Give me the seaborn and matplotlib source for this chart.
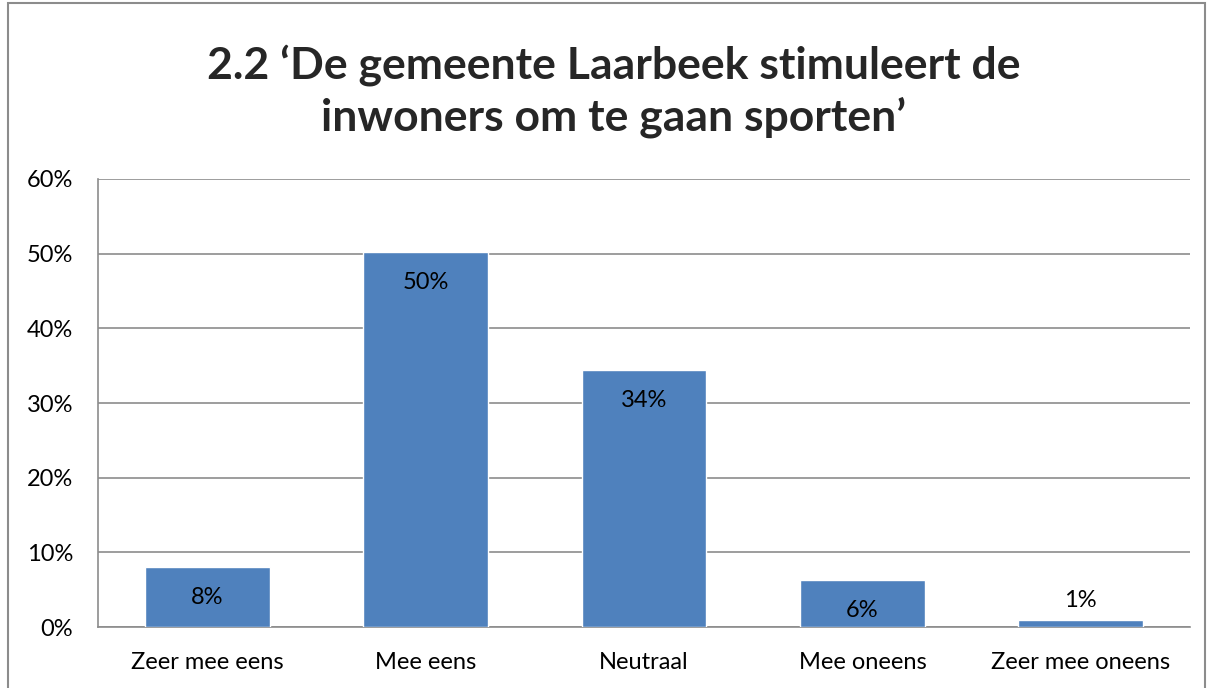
import matplotlib
matplotlib.use("Agg")
import matplotlib.pyplot as plt
import seaborn as sns
import pandas as pd
from matplotlib.patches import Rectangle

categories = ["Zeer mee eens", "Mee eens", "Neutraal", "Mee oneens", "Zeer mee oneens"]
values = [8.0, 50.2, 34.4, 6.3, 0.9]
labels = ["8%", "50%", "34%", "6%", "1%"]
yticks = [0, 10, 20, 30, 40, 50, 60]
ytick_labels = ["0%", "10%", "20%", "30%", "40%", "50%", "60%"]
title = "2.2 \u2018De gemeente Laarbeek stimuleert de\ninwoners om te gaan sporten\u2019"

sns.set_theme(style="white")
plt.rcParams['font.family'] = ['Lato', 'DejaVu Sans']

df = pd.DataFrame({"cat": categories, "val": values})

fig = plt.figure(figsize=(12.15, 6.88), dpi=100)
ax = fig.add_axes([98/1215, 61/688, 1092/1215, 448/688])

sns.barplot(data=df, x="cat", y="val", color="#4F81BD", saturation=1, width=0.572, ax=ax, zorder=3)

fs = 17
ax.set_ylim(0, 60)
ax.set_xlim(-0.5, 4.5)
ax.set_yticks(yticks)
ax.set_yticklabels(ytick_labels, fontsize=fs, color="black")
ax.tick_params(axis="x", labelsize=fs, colors="black", pad=18, length=0)
ax.tick_params(axis="y", pad=18, length=0)
ax.set_xlabel("")
ax.set_ylabel("")
ax.yaxis.grid(True, color="#8c8c8c", linewidth=1.2, zorder=0)
ax.set_axisbelow(True)
for s in ["top", "right"]:
    ax.spines[s].set_visible(False)
for s in ["left", "bottom"]:
    ax.spines[s].set_color("#8c8c8c")
    ax.spines[s].set_linewidth(1.2)

for i, (v, lab) in enumerate(zip(values, labels)):
    if v > 3:
        ax.text(i, v - 4.1, lab, ha="center", va="center", fontsize=fs, color="black", zorder=5)
    else:
        ax.text(i, v + 2.6, lab, ha="center", va="center", fontsize=fs, color="black", zorder=5)

fig.text(614/1215, 1 - 91/688, title, ha="center", va="center", fontsize=32,
         fontweight="bold", linespacing=1.3)

fig.patches.append(Rectangle((8/1215, -0.01), 1197/1215, 1.005, transform=fig.transFigure,
                             fill=False, edgecolor="#8c8c8c", linewidth=1.5))

fig.savefig("out.png", dpi=100)
